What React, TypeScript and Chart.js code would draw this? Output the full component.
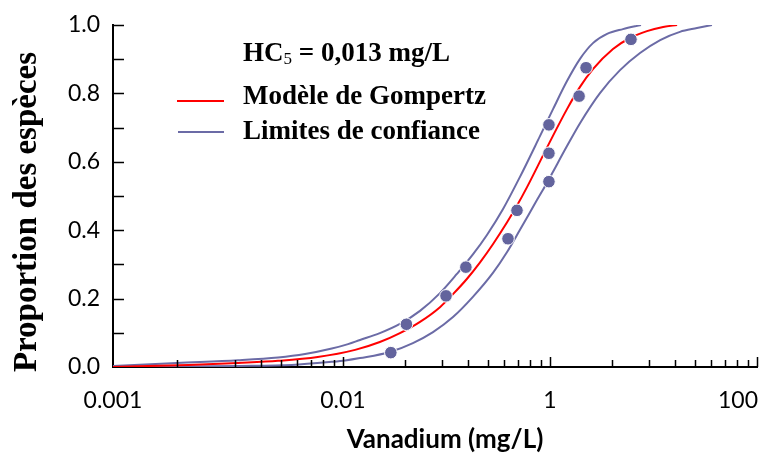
import { useEffect, useRef } from "react";
import { Chart, registerables } from "chart.js";

Chart.register(...registerables);

// ---- axis ticks ----
const X_MIN = 6.0e-5;
const X_MAX = 100;
const xTickValues = [X_MIN, 0.01, 1, 100];
const xTickLabels = ["0.001", "0.01", "1", "100"];
const xMajorTicks = [0.01, 1, 100];
const xMinorTicks = [
  0.00025, 0.0009, 0.0016, 0.0025, 0.0036, 0.0049, 0.0064, 0.0081,
  0.04, 0.09, 0.16, 0.25, 0.36, 0.49, 0.64, 0.81,
  4, 9, 16, 25, 36, 49, 64, 81,
];
const yTickValues = [0.1, 0.2, 0.3, 0.4, 0.5, 0.6, 0.7, 0.8, 0.9, 1.0];
const yTickLabels = ["0.0", "", "0.2", "", "0.4", "", "0.6", "", "0.8", "", "1.0"];

// ---- observed species (points) ----
const pointsX = [0.029, 0.041, 0.099, 0.154, 0.393, 0.48, 0.977, 0.977, 0.977, 1.91, 2.23, 6.06];
const pointsY = [0.042, 0.125, 0.208, 0.292, 0.375, 0.458, 0.542, 0.625, 0.708, 0.792, 0.875, 0.958];

// ---- Gompertz model ----
const modelX = [6.0e-5, 3.2e-4, 9.7e-4, 2.36e-3, 5.7e-3, 0.0131, 0.0227, 0.0355, 0.0555, 0.0865, 0.1156, 0.158, 0.211, 0.281, 0.385, 0.48, 0.6, 0.748, 1.0, 1.46, 1.95, 2.6, 4.06, 5.93, 8.65, 12.4, 16.9];
const modelY = [0, 0.006, 0.012, 0.018, 0.029, 0.05, 0.073, 0.099, 0.132, 0.175, 0.213, 0.258, 0.306, 0.359, 0.423, 0.472, 0.526, 0.583, 0.659, 0.754, 0.819, 0.871, 0.93, 0.962, 0.982, 0.994, 1.0];

// ---- confidence limits ----
const upperX = [6.0e-5, 2.49e-4, 9.7e-4, 2.36e-3, 4.3e-3, 7.8e-3, 0.0112, 0.0146, 0.0227, 0.0355, 0.0555, 0.0865, 0.126, 0.18, 0.246, 0.352, 0.513, 0.8, 1.07, 1.46, 1.95, 2.6, 3.56, 5.07, 7.57];
const upperY = [0.003, 0.012, 0.02, 0.028, 0.038, 0.054, 0.067, 0.079, 0.099, 0.126, 0.164, 0.216, 0.272, 0.329, 0.386, 0.462, 0.556, 0.675, 0.754, 0.836, 0.901, 0.947, 0.974, 0.988, 1.0];
const lowerX = [6.0e-5, 9.7e-4, 3.2e-3, 7.8e-3, 0.0105, 0.0146, 0.0284, 0.0474, 0.0741, 0.1156, 0.18, 0.281, 0.385, 0.513, 0.748, 0.957, 1.07, 1.46, 1.95, 3.04, 4.75, 7.41, 11.6, 18.0, 26.3, 36.7];
const lowerY = [0, 0.003, 0.006, 0.015, 0.019, 0.026, 0.044, 0.07, 0.102, 0.146, 0.205, 0.275, 0.336, 0.401, 0.488, 0.544, 0.571, 0.646, 0.713, 0.801, 0.868, 0.918, 0.956, 0.98, 0.991, 1.0];

const RED = "#ff0000";
const LIMIT = "#6b6ba6";
const DOT = "#63649d";

const toXY = (xs: number[], ys: number[]) => xs.map((x, i) => ({ x, y: ys[i] }));

const decorPlugin = {
  id: "decor",
  afterDraw(chart: any) {
    const ctx = chart.ctx as CanvasRenderingContext2D;
    const xs = chart.scales.x;
    const ys = chart.scales.y;
    const a = chart.chartArea;
    ctx.save();
    ctx.strokeStyle = "#000";
    ctx.lineWidth = 1.5;
    ctx.beginPath();
    for (const v of xMajorTicks) {
      const px = Math.round(xs.getPixelForValue(v)) + 0.5;
      ctx.moveTo(px, a.bottom);
      ctx.lineTo(px, a.bottom - 10);
    }
    for (const v of xMinorTicks) {
      const px = Math.round(xs.getPixelForValue(v)) + 0.5;
      ctx.moveTo(px, a.bottom);
      ctx.lineTo(px, a.bottom - 7);
    }
    for (const v of yTickValues) {
      const py = Math.round(ys.getPixelForValue(v)) + 0.5;
      ctx.moveTo(a.left, py);
      ctx.lineTo(a.left + 11, py);
    }
    ctx.stroke();

    // x tick labels
    ctx.fillStyle = "#000";
    ctx.font = "23px Lato";
    ctx.textAlign = "center";
    ctx.textBaseline = "middle";
    xTickValues.forEach((v, i) => {
      const t = xTickLabels[i];
      const w = ctx.measureText(t).width;
      let cx = xs.getPixelForValue(v);
      if (cx + w / 2 > chart.width - 7) cx = chart.width - 7 - w / 2;
      ctx.fillText(t, cx, a.bottom + 34);
    });

    // x title
    ctx.font = "bold 26px Lato";
    ctx.fillText("Vanadium (mg/L)", 445, a.bottom + 73);

    // y title
    ctx.save();
    ctx.translate(27, 212);
    ctx.rotate(-Math.PI / 2);
    ctx.font = 'bold 33px "Liberation Serif"';
    ctx.fillText("Proportion des espèces", 0, 0);
    ctx.restore();

    // legend
    ctx.textAlign = "left";
    ctx.font = 'bold 27px "Liberation Serif"';
    let x = 243;
    ctx.fillText("HC", x, 54);
    x += ctx.measureText("HC").width;
    ctx.font = '17px "Liberation Serif"';
    ctx.fillText("5", x, 60);
    x += ctx.measureText("5").width;
    ctx.font = 'bold 27px "Liberation Serif"';
    ctx.fillText(" = 0,013 mg/L", x, 54);
    ctx.fillText("Modèle de Gompertz", 243, 97);
    ctx.fillText("Limites de confiance", 243, 132);

    ctx.lineWidth = 2;
    ctx.strokeStyle = RED;
    ctx.beginPath();
    ctx.moveTo(177, 101);
    ctx.lineTo(224, 101);
    ctx.stroke();
    ctx.strokeStyle = LIMIT;
    ctx.beginPath();
    ctx.moveTo(178, 132);
    ctx.lineTo(224, 132);
    ctx.stroke();
    ctx.restore();
  },
};

export default function App() {
  const ref = useRef<HTMLCanvasElement | null>(null);
  useEffect(() => {
    if (!ref.current) return;
    const chart = new Chart(ref.current, {
      type: "line",
      data: {
        datasets: [
          {
            label: "Espèces",
            data: toXY(pointsX, pointsY),
            showLine: false,
            pointRadius: 6.3,
            pointBackgroundColor: DOT,
            pointBorderColor: "#ffffff",
            pointBorderWidth: 1,
            order: 0,
          },
          {
            label: "Modèle de Gompertz",
            data: toXY(modelX, modelY),
            borderColor: RED,
            borderWidth: 2,
            pointRadius: 0,
            cubicInterpolationMode: "monotone",
            fill: false,
            order: 1,
          },
          {
            label: "Limite supérieure",
            data: toXY(upperX, upperY),
            borderColor: LIMIT,
            borderWidth: 2,
            pointRadius: 0,
            cubicInterpolationMode: "monotone",
            fill: false,
            order: 2,
          },
          {
            label: "Limite inférieure",
            data: toXY(lowerX, lowerY),
            borderColor: LIMIT,
            borderWidth: 2,
            pointRadius: 0,
            cubicInterpolationMode: "monotone",
            fill: false,
            order: 3,
          },
        ],
      } as any,
      options: {
        animation: false,
        responsive: false,
        devicePixelRatio: 1,
        layout: { padding: { top: 25, right: 8, left: 0, bottom: 0 } },
        plugins: { legend: { display: false }, tooltip: { enabled: false } },
        scales: {
          x: {
            type: "logarithmic",
            min: X_MIN,
            max: X_MAX,
            grid: { display: false, drawTicks: false },
            border: { display: true, color: "#000", width: 2 },
            ticks: { display: false },
            afterFit: (s: any) => {
              s.height = 90;
              s.paddingLeft = 0;
              s.paddingRight = 0;
            },
          },
          y: {
            type: "linear",
            min: 0,
            max: 1,
            grid: { display: false, drawTicks: false },
            border: { display: true, color: "#000", width: 2 },
            ticks: {
              stepSize: 0.1,
              autoSkip: false,
              padding: 13,
              color: "#000",
              font: { family: "Lato", size: 23 },
              callback: (_v: any, i: number) => yTickLabels[i] ?? "",
            },
            afterFit: (s: any) => {
              s.width = 113;
              s.paddingTop = 0;
              s.paddingBottom = 0;
            },
          },
        },
      } as any,
      plugins: [decorPlugin],
    });
    return () => chart.destroy();
  }, []);
  return (
    <div style={{ position: "fixed", left: 0, top: 0, width: 765, height: 457, background: "#fff" }}>
      <canvas ref={ref} width={765} height={457} style={{ display: "block" }} />
    </div>
  );
}
